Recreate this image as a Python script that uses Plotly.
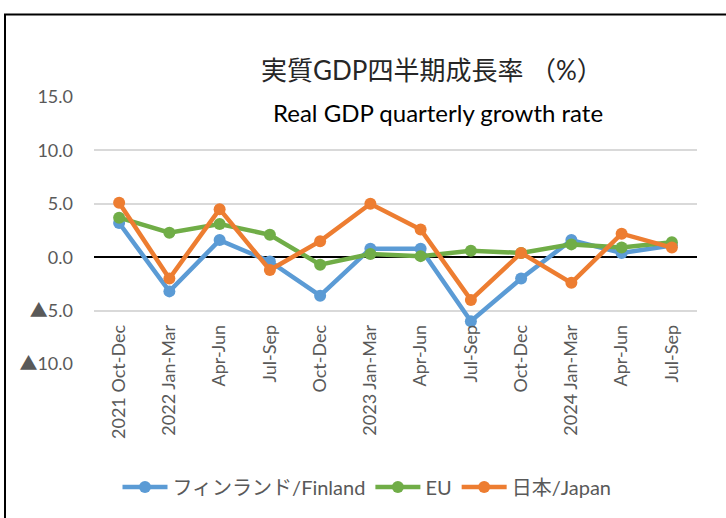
import plotly.graph_objects as go

quarters = ["2021 Oct-Dec", "2022 Jan-Mar", "Apr-Jun", "Jul-Sep", "Oct-Dec",
            "2023 Jan-Mar", "Apr-Jun", "Jul-Sep", "Oct-Dec",
            "2024 Jan-Mar", "Apr-Jun", "Jul-Sep"]
finland = [3.2, -3.2, 1.6, -0.4, -3.6, 0.8, 0.8, -6.0, -2.0, 1.6, 0.4, 1.1]
eu = [3.7, 2.3, 3.1, 2.1, -0.7, 0.3, 0.1, 0.6, 0.4, 1.2, 0.9, 1.4]
japan = [5.1, -2.0, 4.5, -1.2, 1.5, 5.0, 2.6, -4.0, 0.4, -2.4, 2.2, 0.9]
y_ticks = [-10, -5, 0, 5, 10, 15]
y_ticktext = ["▲10.0", "▲5.0", "0.0", "5.0", "10.0", "15.0"]

series_names = ["フィンランド/Finland", "EU", "日本/Japan"]
colors = ["#5B9BD5", "#70AD47", "#ED7D31"]

FONT = "Lato, 'Noto Sans CJK JP', sans-serif"
GRAY = "#595959"

W, H = 726, 518
ML, MR, MT, MB = 94, 29, 97, 152
PW, PH = W - ML - MR, H - MT - MB

def px_x(px):
    return (px - ML) / PW

def px_y(py):
    return (H - MB - py) / PH

xs = list(range(len(quarters)))

fig = go.Figure()
for name, vals, col in zip(series_names, [finland, eu, japan], colors):
    fig.add_trace(go.Scatter(
        x=xs, y=vals, name=name, mode="lines+markers",
        line=dict(color=col, width=4.5),
        marker=dict(color=col, size=12),
    ))

fig.update_layout(
    width=W, height=H,
    margin=dict(l=ML, r=MR, t=MT, b=MB),
    paper_bgcolor="white", plot_bgcolor="white",
    font=dict(family=FONT, color=GRAY, size=18),
    showlegend=True,
    legend=dict(orientation="h", x=px_x(367), xanchor="center", y=px_y(490), yanchor="middle",
                font=dict(size=20, color=GRAY), itemwidth=45, tracegroupgap=0),
    xaxis=dict(
        range=[-0.5, len(quarters) - 0.5],
        tickmode="array", tickvals=xs, ticktext=quarters,
        tickangle=-90, showgrid=False, zeroline=False, showline=False,
        ticks="", anchor="free", position=px_y(322),
        tickfont=dict(size=18, color=GRAY),
    ),
    yaxis=dict(
        range=[-10, 15], tickmode="array", tickvals=y_ticks, ticktext=y_ticktext,
        showgrid=True, gridcolor="#D9D9D9", gridwidth=1.5,
        zeroline=True, zerolinecolor="black", zerolinewidth=2,
        showline=False, ticks="", ticklabelstandoff=20,
        tickfont=dict(size=18, color=GRAY),
    ),
    annotations=[
        dict(text="実質GDP四半期成長率 （%）", x=px_x(432), y=px_y(52),
             xref="paper", yref="paper", showarrow=False,
             font=dict(size=26, color="#262626", family=FONT)),
        dict(text="Real GDP quarterly growth rate", x=px_x(438), y=px_y(96),
             xref="paper", yref="paper", showarrow=False,
             font=dict(size=24, color="black", family=FONT)),
    ],
    shapes=[
        dict(type="rect", xref="paper", yref="paper",
             x0=px_x(5), x1=px_x(740), y0=px_y(540), y1=px_y(14),
             line=dict(color="black", width=2), fillcolor="rgba(0,0,0,0)", layer="below"),
    ],
)

fig.write_html("out.html", config={"displayModeBar": False},
               post_script="document.body.style.margin='0';document.body.style.overflow='hidden';")
